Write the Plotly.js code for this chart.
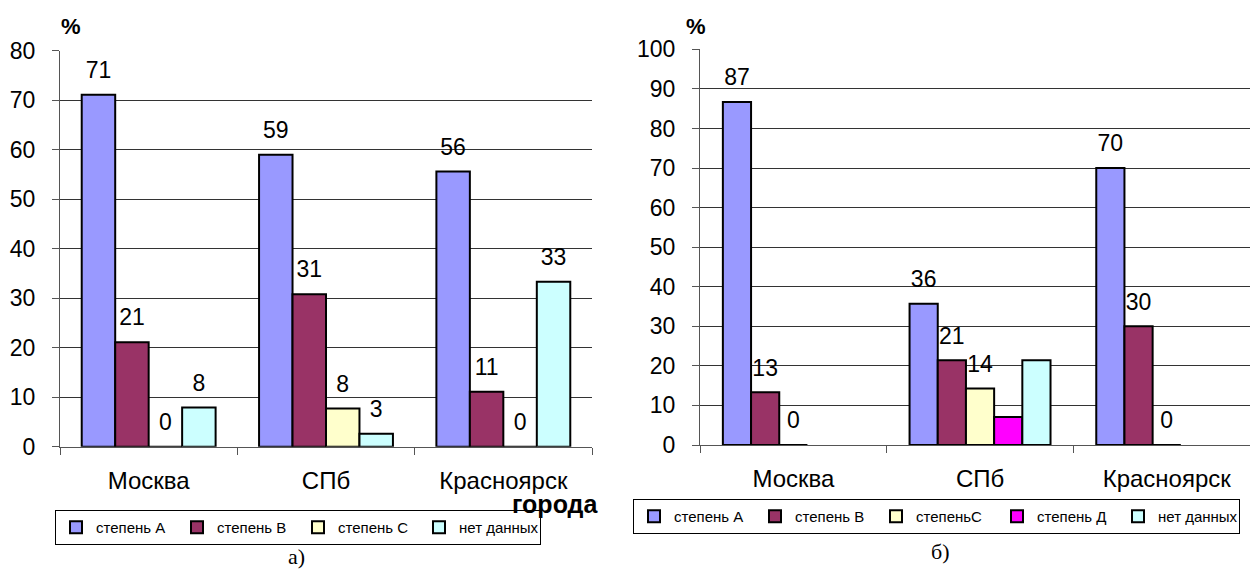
<!DOCTYPE html>
<html>
<head>
<meta charset="utf-8">
<script src="https://cdn.plot.ly/plotly-3.0.1.min.js"></script>
<style>
  html, body { margin: 0; padding: 0; background: #fff; }
  #chart { width: 1250px; height: 575px; }
</style>
</head>
<body>
<div id="chart"></div>
<script>
// ---------- data ----------
const cities = ['Москва', 'СПб', 'Красноярск'];

// chart а)
const leftNames = ['степень А', 'степень В', 'степень С', 'нет данных'];
const leftA = [71.1, 59.0, 55.6];
const leftB = [21.1, 30.8, 11.1];
const leftC = [0, 7.7, 0];
const leftN = [7.9, 2.6, 33.3];
const leftLabelsA = ['71', '59', '56'];
const leftLabelsB = ['21', '31', '11'];
const leftLabelsC = ['0', '8', '0'];
const leftLabelsN = ['8', '3', '33'];

// chart б)
const rightNames = ['степень А', 'степень В', 'степеньС', 'степень Д', 'нет данных'];
const rightA = [86.7, 35.7, 70.0];
const rightB = [13.3, 21.4, 30.0];
const rightC = [0, 14.3, 0];
const rightD = [null, 7.1, null];
const rightN = [null, 21.4, null];
const rightLabelsA = ['87', '36', '70'];
const rightLabelsB = ['13', '21', '30'];
const rightLabelsC = ['0', '14', '0'];
const rightLabelsD = ['', '', ''];
const rightLabelsN = ['', '', ''];

const colors = {
  A: '#9999FF', B: '#993366', C: '#FFFFCC', D: '#FF00FF', N: '#CCFFFF'
};

// ---------- helpers ----------
const FONT = 'Liberation Sans, Arial, sans-serif';
const GAP = 0.245;

function bar(name, y, color, xa, ya, lg) {
  return {
    type: 'bar', name: name, x: cities, y: y,
    marker: { color: color, line: { color: '#000', width: 2 } },
    xaxis: xa, yaxis: ya, legend: lg, hoverinfo: 'skip'
  };
}
// value labels: invisible markers whose size lifts the text off the bar top
function labels(y, txt, xa, ya) {
  return {
    type: 'scatter', mode: 'markers+text', x: cities, y: y,
    text: txt, textposition: 'top center', cliponaxis: false,
    textfont: { family: FONT, size: 23, color: '#000' },
    marker: { size: 16, opacity: 0, color: '#fff' },
    xaxis: xa, yaxis: ya, showlegend: false, hoverinfo: 'skip'
  };
}

const traces = [
  bar(leftNames[0], leftA, colors.A, 'x', 'y', 'legend'),
  bar(leftNames[1], leftB, colors.B, 'x', 'y', 'legend'),
  bar(leftNames[2], leftC, colors.C, 'x', 'y', 'legend'),
  bar(leftNames[3], leftN, colors.N, 'x', 'y', 'legend'),
  bar(rightNames[0], rightA, colors.A, 'x2', 'y2', 'legend2'),
  bar(rightNames[1], rightB, colors.B, 'x2', 'y2', 'legend2'),
  bar(rightNames[2], rightC, colors.C, 'x2', 'y2', 'legend2'),
  bar(rightNames[3], rightD, colors.D, 'x2', 'y2', 'legend2'),
  bar(rightNames[4], rightN, colors.N, 'x2', 'y2', 'legend2'),
  labels(leftA, leftLabelsA, 'x', 'y'),
  labels(leftB, leftLabelsB, 'x', 'y'),
  labels(leftC, leftLabelsC, 'x', 'y'),
  labels(leftN, leftLabelsN, 'x', 'y'),
  labels(rightA, rightLabelsA, 'x2', 'y2'),
  labels(rightB, rightLabelsB, 'x2', 'y2'),
  labels(rightC, rightLabelsC, 'x2', 'y2'),
  labels(rightD, rightLabelsD, 'x2', 'y2'),
  labels(rightN, rightLabelsN, 'x2', 'y2')
];

const W = 1250, H = 575;
const axisLine = '#555';
const gridCol = '#333';

function xAxis(d0, d1, range, anchor) {
  return {
    domain: [d0 / W, d1 / W], anchor: anchor, range: range, type: 'category',
    showline: true, linecolor: axisLine, linewidth: 1,
    ticks: 'outside', tickson: 'boundaries', ticklen: 7, tickcolor: axisLine,
    tickfont: { family: FONT, size: 24, color: '#000' },
    ticklabelstandoff: 12, showgrid: false, zeroline: false,
    fixedrange: true
  };
}
function yAxis(pxTop, pxBottom, range, dtick, anchor) {
  return {
    domain: [(H - pxBottom) / H, (H - pxTop) / H], anchor: anchor,
    range: range, dtick: dtick, tick0: 0,
    showline: true, linecolor: axisLine, linewidth: 1,
    ticks: 'outside', ticklen: 7, tickcolor: axisLine,
    tickfont: { family: FONT, size: 23, color: '#000' }, ticklabelstandoff: 12,
    showgrid: true, gridcolor: gridCol, gridwidth: 1, zeroline: false,
    fixedrange: true
  };
}

const legendBase = {
  orientation: 'h', xanchor: 'left', yanchor: 'top',
  bordercolor: '#000', borderwidth: 1, bgcolor: '#fff',
  font: { family: FONT, size: 15, color: '#000' },
  itemwidth: 30, tracegroupgap: 0, traceorder: 'normal',
  entrywidthmode: 'pixels', entrywidth: 76
};

const layout = {
  width: W, height: H,
  margin: { l: 0, r: 0, t: 0, b: 0 },
  paper_bgcolor: '#fff', plot_bgcolor: '#fff',
  barmode: 'group', bargap: GAP, bargroupgap: 0,
  scattermode: 'group', scattergap: GAP,
  showlegend: true,
  xaxis: xAxis(60, 592, [-0.5, 2.5], 'y'),
  yaxis: yAxis(50.7, 446.7, [0, 80], 10, 'x'),
  xaxis2: xAxis(700, 1250, [-0.5, 2.446], 'y2'),
  yaxis2: yAxis(49.3, 445, [0, 100], 10, 'x2'),
  legend: Object.assign({}, legendBase, { x: 55 / W, y: (H - 510) / H }),
  legend2: Object.assign({}, legendBase, { x: 633 / W, y: (H - 499) / H }),
  annotations: [
    { text: '<b>%</b>', xref: 'paper', yref: 'paper', x: 71 / W, y: (H - 26) / H,
      xanchor: 'center', yanchor: 'middle',
      showarrow: false, font: { family: FONT, size: 22, color: '#000' } },
    { text: '<b>%</b>', xref: 'paper', yref: 'paper', x: 696 / W, y: (H - 26) / H,
      xanchor: 'center', yanchor: 'middle',
      showarrow: false, font: { family: FONT, size: 22, color: '#000' } },
    { text: '<b>города</b>', xref: 'paper', yref: 'paper', x: 555 / W, y: (H - 504) / H,
      xanchor: 'center', yanchor: 'middle',
      showarrow: false, font: { family: FONT, size: 25, color: '#000' } },
    { text: 'а)', xref: 'paper', yref: 'paper', x: 296 / W, y: (H - 556) / H,
      xanchor: 'center', yanchor: 'middle',
      showarrow: false, font: { family: 'Liberation Serif, Times New Roman, serif', size: 22, color: '#000' } },
    { text: 'б)', xref: 'paper', yref: 'paper', x: 940 / W, y: (H - 551) / H,
      xanchor: 'center', yanchor: 'middle',
      showarrow: false, font: { family: 'Liberation Serif, Times New Roman, serif', size: 22, color: '#000' } }
  ]
};

Plotly.newPlot('chart', traces, layout, { displayModeBar: false, staticPlot: true });
</script>
</body>
</html>
